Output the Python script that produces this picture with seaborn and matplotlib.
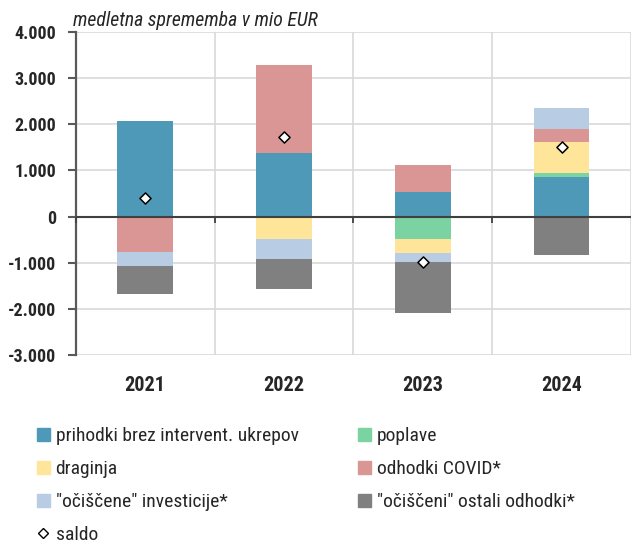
import numpy as np
import seaborn as sns
from matplotlib import pyplot as plt
from matplotlib import font_manager
from matplotlib import markers
from matplotlib.patches import Patch
from matplotlib.lines import Line2D

# data (mio EUR)
years = ["2021", "2022", "2023", "2024"]
prihodki = [2080, 1370, 540, 865]
poplave = [0, 0, -485, 85]
draginja = [0, -485, -315, 665]
covid = [-770, 1910, 570, 290]
investicije = [-305, -425, -180, 440]
ostali = [-605, -665, -1115, -830]
saldo = [400, 1720, -975, 1515]

names = ["prihodki brez intervent. ukrepov", "poplave", "draginja",
         "odhodki COVID*", '"očiščene" investicije*', '"očiščeni" ostali odhodki*']
series = [prihodki, poplave, draginja, covid, investicije, ostali]
colors = ["#4E98B8", "#7AD3A0", "#FFE599", "#DA9694", "#B8CCE4", "#808080"]
ytick_vals = [-3000, -2000, -1000, 0, 1000, 2000, 3000, 4000]
ytick_labels = ["-3.000", "-2.000", "-1.000", "0", "1.000", "2.000", "3.000", "4.000"]

sns.set_style("white")

# condensed font if we have one
installed = {f.name for f in font_manager.fontManager.ttflist}
fam = "DejaVu Sans"
scale = 0.8
for cand in ["Liberation Sans Narrow", "Roboto Condensed", "Open Sans Condensed"]:
    if cand in installed:
        fam = cand
        scale = 1.0
        break
plt.rcParams["font.family"] = [fam, "DejaVu Sans"]

fig = plt.figure(figsize=(6.31, 5.45), dpi=100)
ax = fig.add_axes([0.1201, 0.3486, 0.8799, 0.5927])

pos = np.zeros(len(years))
neg = np.zeros(len(years))
for vals, col in zip(series, colors):
    v = np.array(vals, dtype=float)
    bottom = np.where(v >= 0, pos, neg)
    sns.barplot(x=years, y=v, bottom=bottom, color=col, width=0.4, saturation=1,
                linewidth=0, errorbar=None, ax=ax, zorder=2)
    pos += np.where(v > 0, v, 0)
    neg += np.where(v < 0, v, 0)

sns.scatterplot(x=years, y=saldo, marker="D", s=32, color="white",
                edgecolor="black", linewidth=1.1, ax=ax, zorder=6)

ax.set_ylim(ytick_vals[0], ytick_vals[-1])
ax.set_xlim(-0.5, 3.437)
ax.set_xlabel("")
ax.set_ylabel("")

ax.set_yticks(ytick_vals)
ax.set_yticklabels(ytick_labels, fontsize=13 * scale, fontweight="bold")
ax.tick_params(axis="y", direction="out", length=6, width=1.5, color="#595959",
               pad=8, left=True)
ax.tick_params(axis="x", length=0, pad=15, labelsize=14.5 * scale)
for t in ax.get_xticklabels():
    t.set_fontweight("bold")

bounds = np.arange(len(years) + 1) - 0.5
ax.set_xticks(bounds, minor=True)
ax.tick_params(axis="x", which="minor", length=0)
ax.grid(axis="y", which="major", color="#D9D9D9", linewidth=1.2, zorder=0)
ax.grid(axis="x", which="minor", color="#D9D9D9", linewidth=1.2, zorder=0)
ax.grid(axis="x", which="major", visible=False)
ax.set_axisbelow(True)

for s in ["top", "right", "bottom"]:
    ax.spines[s].set_visible(False)
ax.spines["left"].set_color("#595959")
ax.spines["left"].set_linewidth(1.6)

# zero line across the bars, with small tick marks at category borders
ax.axhline(0, color="#404040", linewidth=1.5, zorder=4)
ax.plot(bounds[:-1], np.zeros(len(bounds) - 1), linestyle="none",
        marker=markers.TICKDOWN, markersize=4.5, markeredgewidth=1.3,
        color="#404040", zorder=4, clip_on=False)

fig.text(0.1157, 0.952, "medletna sprememba v mio EUR", fontsize=14.2 * scale,
         style="italic", va="baseline", ha="left")

handles = [Patch(color=colors[0]), Patch(color=colors[2]), Patch(color=colors[4]),
           Line2D([], [], marker="D", linestyle="none", markersize=5,
                  markerfacecolor="white", markeredgecolor="black", markeredgewidth=1),
           Patch(color=colors[1]), Patch(color=colors[3]), Patch(color=colors[5])]
labels = [names[0], names[2], names[4], "saldo", names[1], names[3], names[5]]
fs = 14 * scale
fs_px = fs * 100 / 72
fig.legend(handles, labels, ncol=2, loc="upper left", bbox_to_anchor=(0.058, 0.2165),
           frameon=False, fontsize=fs, borderpad=0, borderaxespad=0,
           handlelength=13 / fs_px, handleheight=13 / fs_px, handletextpad=6 / fs_px,
           columnspacing=59 / fs_px, labelspacing=0.77)

plt.savefig("out.png", dpi=100)
